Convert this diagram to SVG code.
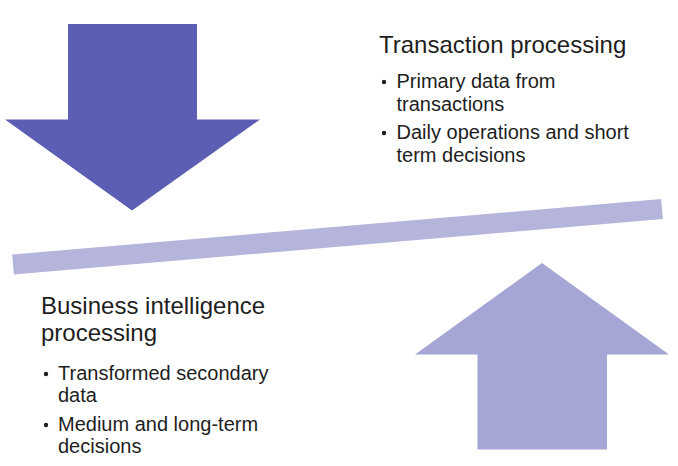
<svg xmlns="http://www.w3.org/2000/svg" width="678" height="466" viewBox="0 0 678 466">
<style>
.t{font-family:"Liberation Sans",Arial,sans-serif;fill:#1e1e1e}
.h{font-size:24px}
.b{font-size:20px}
.dot{fill:#1e1e1e}
</style>
<rect width="678" height="466" fill="#ffffff"/>
<g id="down-arrow">
<polygon points="68,24 197,24 197,119.5 260,119.5 132,210.5 5,119.5 68,119.5" fill="#5c5eb4"/>
</g>
<g id="beam">
<line x1="13" y1="264.5" x2="662" y2="209" stroke="#b5b5dc" stroke-width="20"/>
</g>
<g id="up-arrow">
<polygon points="542,263 669,354.5 607,354.5 607,449.5 477.5,449.5 477.5,354.5 415,354.5" fill="#a6a6d6"/>
</g>
<g id="transaction-processing">
<text class="t h" x="379" y="53">Transaction processing</text>
<circle class="dot" cx="384" cy="82" r="2.2"/>
<text class="t b" x="396.5" y="88">Primary data from</text>
<text class="t b" x="396.5" y="110.5">transactions</text>
<circle class="dot" cx="384" cy="133" r="2.2"/>
<text class="t b" x="396.5" y="139">Daily operations and short</text>
<text class="t b" x="396.5" y="161.5">term decisions</text>
</g>
<g id="business-intelligence">
<text class="t h" x="41" y="314">Business intelligence</text>
<text class="t h" x="41" y="341">processing</text>
<circle class="dot" cx="46" cy="374" r="2.2"/>
<text class="t b" x="58" y="380">Transformed secondary</text>
<text class="t b" x="58" y="402">data</text>
<circle class="dot" cx="46" cy="425" r="2.2"/>
<text class="t b" x="58" y="431">Medium and long-term</text>
<text class="t b" x="58" y="453">decisions</text>
</g>
</svg>
